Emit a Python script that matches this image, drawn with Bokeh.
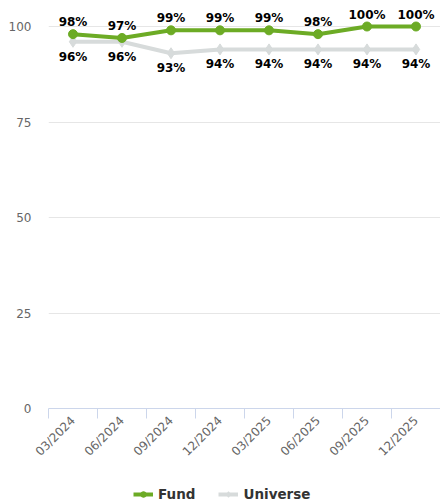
from bokeh.plotting import figure
from bokeh.models import FixedTicker, Legend, LegendItem, ColumnDataSource, LabelSet
from bokeh.core.properties import value
from bokeh.layouts import column
from bokeh.embed import file_html
from bokeh.resources import INLINE
import math

categories = ["03/2024", "06/2024", "09/2024", "12/2024", "03/2025", "06/2025", "09/2025", "12/2025"]
fund = [98, 97, 99, 99, 99, 98, 100, 100]
universe = [96, 96, 93, 94, 94, 94, 94, 94]
y_ticks = [0, 25, 50, 75, 100]

FONT = "DejaVu Sans"
GREEN = "#6cab25"
GREY = "#d7dbdb"

xs = [i + 0.5 for i in range(len(categories))]

p = figure(width=440, height=481, output_backend="svg", toolbar_location=None,
           x_range=(0, len(categories)), y_range=(0, 105.5),
           min_border_left=48, min_border_right=0, min_border_top=5, min_border_bottom=73)
p.outline_line_color = None
p.background_fill_color = "white"
p.border_fill_color = "white"

src = ColumnDataSource(dict(x=xs, fund=fund, universe=universe,
                            flab=[f"{v}%" for v in fund], ulab=[f"{v}%" for v in universe]))

p.line("x", "universe", source=src, line_color=GREY, line_width=4)
p.scatter("x", "universe", source=src, marker="diamond", size=11, fill_color=GREY, line_color=GREY)
p.line("x", "fund", source=src, line_color=GREEN, line_width=4)
p.scatter("x", "fund", source=src, marker="circle", size=9, fill_color=GREEN, line_color=GREEN)

for ycol, tcol, yoff, base in [("fund", "flab", 8, "alphabetic"), ("universe", "ulab", -8, "top")]:
    p.add_layout(LabelSet(x="x", y=ycol, text=tcol, source=src, x_offset=0, y_offset=yoff,
                          text_align="center", text_baseline=base,
                          text_font=value(FONT), text_font_size="12px", text_font_style="bold",
                          text_color="black"))

# x axis
xa = p.xaxis[0]
xa.ticker = FixedTicker(ticks=xs, minor_ticks=list(range(len(categories) + 1)))
xa.major_label_overrides = {x: c for x, c in zip(xs, categories)}
xa.major_label_orientation = math.pi / 4
xa.major_tick_line_color = None
xa.major_tick_out = 0
xa.major_tick_in = 0
xa.minor_tick_line_color = "#ccd6eb"
xa.minor_tick_in = 0
xa.minor_tick_out = 10
xa.axis_line_color = "#ccd6eb"
xa.major_label_text_font = FONT
xa.major_label_text_font_size = "12px"
xa.major_label_text_color = "#666666"
xa.major_label_standoff = 0

ya = p.yaxis[0]
ya.ticker = FixedTicker(ticks=y_ticks)
ya.axis_line_color = None
ya.major_tick_line_color = None
ya.major_tick_out = 0
ya.major_tick_in = 0
ya.minor_tick_line_color = None
ya.minor_tick_out = 0
ya.major_label_text_font = FONT
ya.major_label_text_font_size = "12px"
ya.major_label_text_color = "#666666"
ya.major_label_standoff = 17

p.xgrid.grid_line_color = None
p.ygrid.grid_line_color = "#e6e6e6"
p.ygrid.ticker = FixedTicker(ticks=[25, 50, 75, 100])

# legend strip
lg = figure(width=440, height=22, output_backend="svg", toolbar_location=None,
            x_range=(0, 1), y_range=(0, 1), x_axis_type=None, y_axis_type=None,
            min_border=0)
lg.outline_line_color = None
lg.grid.grid_line_color = None
offscreen = ColumnDataSource(dict(x=[-5, -4], y=[-5, -5]))
fl = lg.line("x", "y", source=offscreen, line_color=GREEN, line_width=4)
fm = lg.scatter("x", "y", source=offscreen, marker="circle", size=9, fill_color=GREEN, line_color=GREEN)
ul = lg.line("x", "y", source=offscreen, line_color=GREY, line_width=4)
um = lg.scatter("x", "y", source=offscreen, marker="diamond", size=11, fill_color=GREY, line_color=GREY)

legend = Legend(items=[LegendItem(label="Fund", renderers=[fl, fm]),
                       LegendItem(label="Universe", renderers=[ul, um])],
                orientation="horizontal", location=(85, 1),
                label_text_font=FONT, label_text_font_size="13.5px", label_text_font_style="bold",
                label_text_color="#333333", border_line_color=None, background_fill_alpha=0,
                glyph_width=20, glyph_height=14, spacing=23, padding=0, margin=0, label_standoff=5)
lg.add_layout(legend, "center")

open("out.html", "w").write(file_html(column(p, lg, spacing=0), INLINE))
